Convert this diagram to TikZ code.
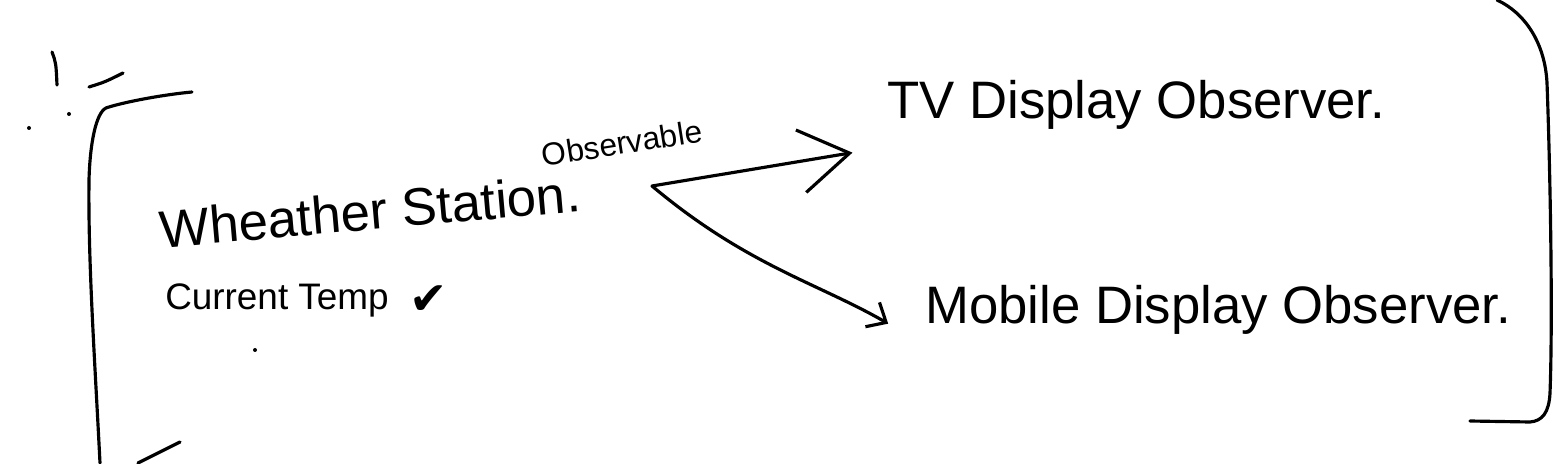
\documentclass[tikz,border=0pt]{standalone}
\usepackage{fontspec}
\setmainfont{Liberation Sans}
\newfontfamily\symbolfont{DejaVu Sans}
\usetikzlibrary{arrows.meta, positioning}

\begin{document}
\begin{tikzpicture}[
  x=0.02cm, y=0.02cm,
  every node/.style={inner sep=0pt},
  pen/.style={line width=1.8pt, line cap=round, line join=round},
  big/.style={font=\fontsize{30}{34}\selectfont},
  arrow/.style={pen, -{Straight Barb[length=28pt, width=36pt, line width=1.8pt]}},
  smallarrow/.style={pen, -{Straight Barb[length=9pt, width=16pt, line width=1.8pt]}}
]
\useasboundingbox (0,0) rectangle (1561,463);

% Subject
\node[big, rotate=5] (station) at (370,252) {Wheather Station.};
\node[font=\fontsize{18}{20}\selectfont, rotate=9] (observable) at (622,320) {Observable};
\node[font=\fontsize{21}{24}\selectfont] (temp) at (277,163) {Current Temp};
\node[font=\symbolfont\fontsize{26}{28}\selectfont, right=0.4cm of temp] (tick) {✔};
\coordinate (hub) at (652,277);

% Observers
\node[big, anchor=west] (tv) at (887,358) {TV Display Observer.};
\node[big, anchor=west] (mobile) at (925,153) {Mobile Display Observer.};

% Arrows
\draw[arrow, shorten >=0.7cm] (hub) -- ([yshift=-0.34cm]tv.south west);
\draw[smallarrow, shorten >=0.85cm] (hub) to[out=-40, in=150] ([yshift=-0.2cm]mobile.south west);

% Brackets and marks
\draw[pen] (192,371) .. controls (160,368) and (120,360) .. (106,355)
  .. controls (96,350) and (90,320) .. (89,283)
  .. controls (88,200) and (95,100) .. (100,0);
\draw[pen] (180,21) -- (138,0);
\draw[pen] (1497,463) .. controls (1525,450) and (1545,420) .. (1547,380)
  .. controls (1550,300) and (1553,150) .. (1550,70)
  .. controls (1549,50) and (1542,42) .. (1530,41) -- (1470,42);
\draw[pen] (52,411) .. controls (56,400) .. (57,378);
\draw[pen] (89,376) .. controls (105,381) .. (123,390);
\fill (69,349) circle[radius=2];
\fill (29,335) circle[radius=2];
\fill (255,113) circle[radius=2];

\end{tikzpicture}
\end{document}
